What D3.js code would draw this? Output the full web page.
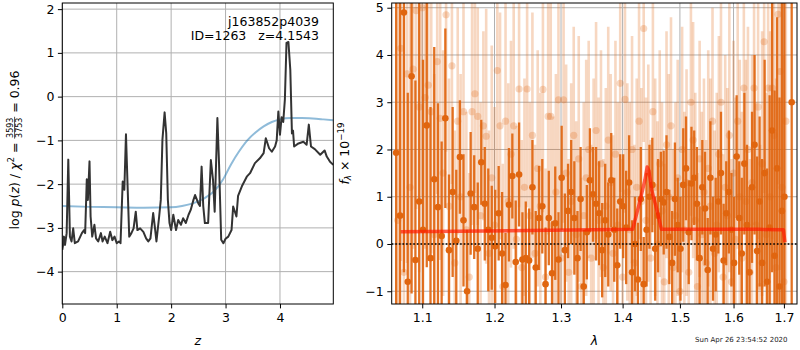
<!DOCTYPE html>
<html><head><meta charset="utf-8">
<script src="https://cdn.jsdelivr.net/npm/d3@7"></script>
<style>body{margin:0;background:#fff} svg text{font-family:"DejaVu Sans",sans-serif}</style>
</head><body><svg id="c" width="800" height="350"></svg>
<script>
// ---------- left panel: p(z) ----------
const pzZ = [0.00,0.01,0.03,0.05,0.08,0.11,0.14,0.17,0.20,0.23,0.29,0.36,0.40,0.42,0.45,0.47,0.50,0.52,0.55,0.59,
  0.62,0.66,0.71,0.74,0.78,0.83,0.88,0.92,0.96,1.00,1.04,1.07,1.11,1.14,1.17,1.20,1.23,1.27,1.31,1.35,
  1.38,1.43,1.49,1.54,1.58,1.62,1.67,1.70,1.73,1.78,1.81,1.84,1.88,1.91,1.94,1.97,2.00,2.04,2.09,2.13,
  2.18,2.22,2.27,2.32,2.36,2.41,2.44,2.50,2.53,2.56,2.59,2.62,2.68,2.73,2.77,2.80,2.85,2.88,2.92,2.96,
  3.00,3.05,3.11,3.14,3.20,3.23,3.30,3.39,3.45,3.54,3.63,3.70,3.74,3.80,3.85,3.91,3.94,3.97,4.00,4.03,
  4.06,4.09,4.12,4.155,4.19,4.22,4.24,4.26,4.34,4.43,4.49,4.53,4.57,4.64,4.74,4.82,4.86,4.92,4.98];
const pzLog = [-3.50,-3.43,-3.20,-3.39,-3.12,-1.44,-3.20,-3.31,-3.01,-3.35,-3.31,-3.12,-3.05,-3.12,-1.89,-2.36,-1.48,-2.74,-3.20,-2.93,
  -3.24,-3.31,-3.12,-3.31,-3.20,-3.35,-3.09,-3.28,-3.20,-3.35,-3.31,-3.35,-1.94,-2.13,-0.86,-2.05,-3.20,-3.12,-3.01,-2.63,
  -3.05,-3.01,-3.09,-3.24,-3.31,-3.24,-2.66,-2.97,-3.31,-2.74,-2.36,-0.99,-0.36,-0.84,-2.36,-2.89,-3.05,-2.70,-3.05,-2.82,
  -2.93,-2.78,-2.89,-2.70,-2.59,-2.36,-2.25,-2.44,-2.50,-1.60,-2.50,-2.89,-2.89,-1.45,-1.91,-2.63,-0.49,-1.52,-3.27,-3.35,
  -3.25,-3.20,-3.05,-2.51,-2.74,-2.27,-2.05,-1.83,-1.75,-1.52,-1.41,-1.29,-0.95,-1.18,-1.26,-1.14,-1.00,-0.34,-0.87,-0.47,
  -0.58,-0.07,1.23,1.25,0.61,-0.84,-0.78,-1.14,-1.07,-1.03,-1.10,-0.64,-1.14,-1.20,-1.33,-1.23,-1.37,-1.49,-1.56];
const chiZ = [0,0.5,1.0,1.5,2.0,2.2,2.4,2.6,2.8,2.95,3.1,3.25,3.4,3.55,3.7,3.85,4.0,4.2,4.4,4.6,4.8,4.98];
const chiLog = [-2.50,-2.52,-2.53,-2.54,-2.53,-2.50,-2.44,-2.33,-2.15,-1.90,-1.55,-1.25,-1.00,-0.82,-0.68,-0.58,-0.52,-0.49,-0.49,-0.50,-0.52,-0.54];
const zTicks = [0,1,2,3,4];
const pTicks = [-4,-3,-2,-1,0,1,2];

// ---------- right panel: spectrum ----------
const lamDark = [1.066,1.071,1.076,1.081,1.086,1.091,1.096,1.101,1.106,1.111,
  1.116,1.121,1.126,1.131,1.136,1.141,1.146,1.151,1.156,1.161,
  1.166,1.171,1.176,1.181,1.186,1.191,1.196,1.201,1.206,1.211,
  1.216,1.221,1.226,1.231,1.236,1.241,1.246,1.251,1.256,1.261,
  1.266,1.271,1.276,1.281,1.286,1.291,1.296,1.301,1.306,1.311,
  1.316,1.321,1.326,1.331,1.336,1.341,1.346,1.351,1.356,1.361,
  1.366,1.371,1.376,1.381,1.386,1.391,1.396,1.401,1.406,1.411,
  1.416,1.421,1.426,1.431,1.436,1.441,1.446,1.451,1.456,1.461,
  1.466,1.471,1.476,1.481,1.486,1.491,1.496,1.501,1.506,1.511,
  1.516,1.521,1.526,1.531,1.536,1.541,1.546,1.551,1.556,1.561,
  1.566,1.571,1.576,1.581,1.586,1.591,1.596,1.601,1.606,1.611,
  1.616,1.621,1.626,1.631,1.636,1.641,1.646,1.651,1.656,1.661,
  1.666,1.671,1.676,1.681,1.686,1.691,1.696,1.701,1.716];
const fluxDark = [1.93,0.6,4.9,-0.8,3.55,-0.34,0.9,0.3,2.51,-0.3,
  1.37,0.78,0.17,2.66,-0.13,1.1,0.07,1.84,0.5,-1.0,
  1.07,0.78,-0.1,1.73,0.85,0.3,0.13,-0.05,0.65,-0.2,
  -0.87,0.83,1.44,-0.38,1.47,-0.33,-0.3,-0.35,1.2,-0.5,
  0.55,0.8,-0.85,0.55,-0.62,0.44,-0.33,1.4,-0.13,0.7,
  1.1,0.55,-0.3,0.95,-0.9,0.25,1.35,1.05,0.85,0.65,
  -0.13,0.5,0.2,1.35,0.3,-0.45,0.9,0.8,0.35,1.3,
  -0.6,0.0,-0.75,0.95,-0.85,0.3,1.0,1.25,-0.1,0.6,
  0.95,0.88,1.1,0.15,-0.4,0.95,0.4,-0.1,1.25,1.6,
  0.25,1.28,1.4,0.85,-0.3,1.2,0.75,-0.55,1.4,-0.1,
  0.2,0.9,1.5,-0.35,0.65,1.1,0.3,-0.4,1.85,0.55,
  -0.2,1.7,0.4,-0.6,1.2,2.1,-0.15,0.9,-0.4,1.5,
  -0.8,0.35,2.4,-0.25,1.6,-0.9,0.7,1.0,3.0];
const errDark = [4.5,5.0,5.5,4.0,4.6,3.8,4.2,3.6,3.0,3.2,
  2.8,2.2,2.0,1.9,1.6,1.8,1.5,1.2,1.4,1.3,
  1.3,1.1,1.4,0.9,1.2,1.3,1.1,1.2,1.0,1.3,
  1.1,1.2,0.9,1.3,1.1,1.0,1.2,1.1,1.0,1.2,
  1.1,1.0,1.2,1.0,1.1,1.2,1.0,1.1,1.2,1.0,
  1.1,1.2,1.0,1.1,1.2,1.0,1.1,1.0,1.2,1.1,
  1.0,1.2,1.1,1.0,1.1,1.2,1.0,1.1,1.2,1.0,
  1.1,1.0,1.2,1.1,1.0,1.2,1.1,1.0,1.1,1.2,
  1.0,1.1,1.2,1.0,1.1,1.2,1.0,1.1,1.2,1.1,
  1.1,1.2,1.0,1.2,1.1,1.0,1.2,1.1,1.2,1.1,
  1.2,1.1,1.3,1.2,1.1,1.3,1.2,1.4,1.3,1.2,
  1.6,1.5,1.7,1.8,1.6,1.9,2.0,1.8,2.2,2.4,
  2.4,2.8,3.0,3.5,3.2,4.0,4.5,5.0,8.0];
const lamLight = [1.068,1.072,1.076,1.080,1.084,1.088,1.092,1.096,1.100,1.104,
  1.108,1.112,1.116,1.120,1.124,1.128,1.132,1.136,1.140,1.144,
  1.148,1.152,1.156,1.160,1.164,1.168,1.172,1.176,1.180,1.184,
  1.188,1.192,1.196,1.200,1.204,1.208,1.212,1.216,1.220,1.224,
  1.228,1.232,1.236,1.240,1.244,1.248,1.252,1.256,1.260,1.264,
  1.268,1.272,1.276,1.280,1.284,1.288,1.292,1.296,1.300,1.304,
  1.308,1.312,1.316,1.320,1.324,1.328,1.332,1.336,1.340,1.344,
  1.348,1.352,1.356,1.360,1.364,1.368,1.372,1.376,1.380,1.384,
  1.388,1.392,1.396,1.400,1.404,1.408,1.412,1.416,1.420,1.424,
  1.428,1.432,1.436,1.440,1.444,1.448,1.452,1.456,1.460,1.464,
  1.468,1.472,1.476,1.480,1.484,1.488,1.492,1.496,1.500,1.504,
  1.508,1.512,1.516,1.520,1.524,1.528,1.532,1.536,1.540,1.544,
  1.548,1.552,1.556,1.560,1.564,1.568,1.572,1.576,1.580,1.584,
  1.588,1.592,1.596,1.600,1.604,1.608,1.612,1.616,1.620,1.624,
  1.628,1.632,1.636,1.640,1.644,1.648,1.652,1.656,1.660,1.664,
  1.668,1.672,1.676,1.680,1.684,1.688,1.692,1.696,1.700,1.704];
const fluxLight = [0.5,4.14,-0.6,3.6,1.2,3.7,4.94,2.9,5.0,3.1,
  3.36,2.8,0.2,3.86,2.66,1.5,4.85,0.8,3.77,-0.4,
  2.6,1.0,2.8,0.3,-0.7,2.8,3.18,2.7,0.6,2.5,
  2.28,-0.2,1.4,0.4,3.67,2.5,-0.9,2.6,0.9,1.9,
  2.5,0.1,3.28,-0.5,1.2,3.28,0.6,2.3,-0.2,1.6,
  0.8,3.27,-0.7,2.7,2.7,0.4,1.1,3.05,-0.3,3.05,
  1.5,-0.6,0.9,2.3,0.2,1.8,-0.9,0.6,1.4,2.0,
  -0.3,1.0,2.4,0.5,1.7,-0.5,0.8,2.2,1.3,-0.2,
  1.9,0.4,3.4,-0.7,3.06,1.1,0.3,2.0,-0.4,1.2,
  2.6,0.9,4.56,0.5,1.5,-0.3,2.8,1.2,0.0,1.7,
  0.7,-0.8,2.1,1.0,2.5,-0.5,0.6,1.4,-1.0,2.0,
  0.3,1.3,-0.6,3.0,2.2,0.5,-0.9,1.8,0.2,1.1,
  -0.4,1.6,0.8,2.6,-0.2,0.4,1.9,3.0,-0.7,1.2,
  0.6,2.3,-0.8,1.5,0.1,2.6,1.0,-0.3,3.3,0.9,
  2.0,-0.6,1.3,3.3,0.4,2.9,-0.9,1.7,4.28,0.2,
  3.3,1.0,3.3,2.3,-0.5,4.86,3.65,1.2,-0.8,2.6];
const errLight = [5.0,4.5,5.5,4.0,4.8,3.8,4.2,3.5,4.0,3.2,
  3.6,3.0,3.4,2.8,3.0,2.6,2.9,2.7,2.5,2.8,
  2.4,2.6,2.3,2.5,2.2,2.4,2.1,2.3,2.4,2.0,
  2.7,2.6,2.8,2.5,2.7,2.4,2.6,2.7,2.5,2.4,
  2.6,2.4,2.5,2.7,2.3,2.5,2.4,2.6,2.3,2.5,
  2.4,2.6,2.3,2.5,2.4,2.3,2.5,2.4,2.3,2.6,
  2.3,2.4,2.5,2.3,2.4,2.6,2.3,2.4,2.5,2.3,
  2.4,2.5,2.3,2.6,2.4,2.3,2.5,2.4,2.3,2.5,
  2.4,2.6,2.3,2.5,2.4,2.3,2.7,2.4,2.5,2.3,
  2.5,2.4,2.4,2.6,2.3,2.5,2.4,2.3,2.6,2.4,
  2.3,2.5,2.4,2.6,2.3,2.5,2.4,2.5,2.3,2.6,
  2.5,2.4,2.6,2.4,2.5,2.7,2.4,2.5,2.6,2.4,
  2.6,2.5,2.7,2.4,2.6,2.8,2.5,2.7,2.6,2.8,
  2.7,2.9,2.6,2.8,3.0,2.7,2.9,3.1,2.8,3.0,
  2.6,2.4,2.7,2.9,2.6,2.8,3.0,2.8,3.2,3.0,
  3.3,3.5,3.2,3.8,4.0,3.6,4.2,4.5,4.8,5.0];
const modelLam = [1.072,1.150,1.250,1.350,1.417,1.430,1.438,1.442,1.445,1.450,1.459,1.467,1.550,1.650,1.699,1.702];
const modelFlux = [0.26,0.27,0.285,0.30,0.31,0.93,1.35,1.63,1.55,1.14,0.72,0.31,0.31,0.31,0.30,0.04];
const lamTicks = [1.1,1.2,1.3,1.4,1.5,1.6,1.7];
const fluxTicks = [-1,0,1,2,3,4,5];

// ---------- drawing ----------
const FS = 12.5;
const svg = d3.select("#c");
const L = {x0:62.3, x1:333.3, y0:3, y1:304};
const R = {x0:391.7, x1:797, y0:3, y1:304};
const GRID = "#b0b0b0";
const DARK = "#e0650f";

const xz = d3.scaleLinear().domain([0,4.98]).range([L.x0,L.x1]);
const yp = d3.scaleLinear().domain([-4.74,2.14]).range([L.y1,L.y0]);
const xl = d3.scaleLog().domain([1.0603,1.727]).range([R.x0,R.x1]);
const yf = d3.scaleLinear().domain([-1.27,5.1]).range([R.y1,R.y0]);

const defs = svg.append("defs");
defs.append("clipPath").attr("id","clipL").append("rect")
  .attr("x",L.x0).attr("y",L.y0).attr("width",L.x1-L.x0).attr("height",L.y1-L.y0);
defs.append("clipPath").attr("id","clipR").append("rect")
  .attr("x",R.x0).attr("y",R.y0).attr("width",R.x1-R.x0).attr("height",R.y1-R.y0);

function grid(P, xs, ys, xt, yt){
  const g = svg.append("g").attr("stroke",GRID).attr("stroke-width",1);
  xt.forEach(t=>g.append("line").attr("x1",xs(t)).attr("x2",xs(t)).attr("y1",P.y0).attr("y2",P.y1));
  yt.forEach(t=>g.append("line").attr("y1",ys(t)).attr("y2",ys(t)).attr("x1",P.x0).attr("x2",P.x1));
}
function axes(P, xs, ys, xt, yt, xf, yfm){
  const gx = svg.append("g").attr("transform",`translate(0,${P.y1})`)
    .call(d3.axisBottom(xs).tickValues(xt).tickSize(4.4).tickPadding(4.5).tickFormat(xf));
  const gy = svg.append("g").attr("transform",`translate(${P.x0},0)`)
    .call(d3.axisLeft(ys).tickValues(yt).tickSize(4.4).tickPadding(3.5).tickFormat(yfm));
  [gx,gy].forEach(g=>{
    g.select(".domain").remove();
    g.attr("font-size",FS).attr("font-family","DejaVu Sans");
    g.selectAll("line").attr("stroke","#000").attr("stroke-width",1);
    g.selectAll("text").attr("fill","#000");
  });
  svg.append("rect").attr("x",P.x0).attr("y",P.y0).attr("width",P.x1-P.x0).attr("height",P.y1-P.y0)
    .attr("fill","none").attr("stroke","#000").attr("stroke-width",1);
}

// left panel
grid(L, xz, yp, zTicks, pTicks);
const gLd = svg.append("g").attr("clip-path","url(#clipL)");
gLd.append("path").datum(d3.zip(chiZ,chiLog))
  .attr("d", d3.line().x(d=>xz(d[0])).y(d=>yp(d[1])).curve(d3.curveMonotoneX))
  .attr("fill","none").attr("stroke","#1f77b4").attr("stroke-opacity",0.5).attr("stroke-width",2);
gLd.append("path").datum(d3.zip(pzZ,pzLog))
  .attr("d", d3.line().x(d=>xz(d[0])).y(d=>yp(d[1])))
  .attr("fill","none").attr("stroke","#333").attr("stroke-width",2).attr("stroke-linejoin","round");
axes(L, xz, yp, zTicks, pTicks, d3.format("d"), d3.format("d"));

svg.append("text").attr("x",319).attr("y",25.5).attr("text-anchor","end").attr("font-size",FS).text("j163852p4039");
svg.append("text").attr("x",319).attr("y",39.5).attr("text-anchor","end").attr("font-size",FS)
  .text("ID=1263\u00a0\u00a0\u00a0z=4.1543");

// right panel
grid(R, xl, yf, lamTicks, fluxTicks);
const gRd = svg.append("g").attr("clip-path","url(#clipR)");
const light = d3.zip(lamLight, fluxLight, errLight);
const dark = d3.zip(lamDark, fluxDark, errDark);
gRd.append("g").selectAll("line").data(light).join("line")
  .attr("x1",d=>xl(d[0])).attr("x2",d=>xl(d[0]))
  .attr("y1",d=>yf(d[1]-d[2])).attr("y2",d=>yf(d[1]+d[2]))
  .attr("stroke",DARK).attr("stroke-opacity",0.26).attr("stroke-width",2.6);
gRd.append("g").selectAll("circle").data(light).join("circle")
  .attr("cx",d=>xl(d[0])).attr("cy",d=>yf(d[1])).attr("r",3.6)
  .attr("fill",DARK).attr("fill-opacity",0.25);
gRd.append("g").selectAll("line").data(dark).join("line")
  .attr("x1",d=>xl(d[0])).attr("x2",d=>xl(d[0]))
  .attr("y1",d=>yf(d[1]-d[2])).attr("y2",d=>yf(d[1]+d[2]))
  .attr("stroke",DARK).attr("stroke-opacity",0.92).attr("stroke-width",2.3);
gRd.append("g").selectAll("circle").data(dark).join("circle")
  .attr("cx",d=>xl(d[0])).attr("cy",d=>yf(d[1])).attr("r",3.3)
  .attr("fill",DARK);
gRd.append("path").datum(d3.zip(modelLam, modelFlux))
  .attr("d", d3.line().x(d=>xl(d[0])).y(d=>yf(d[1])))
  .attr("fill","none").attr("stroke","#ff1a00").attr("stroke-opacity",0.7).attr("stroke-width",3.5)
  .attr("stroke-linejoin","round");
gRd.append("line").attr("x1",R.x0).attr("x2",R.x1).attr("y1",yf(0)).attr("y2",yf(0))
  .attr("stroke","#000").attr("stroke-width",1.6).attr("stroke-dasharray","1.6,2");
axes(R, xl, yf, lamTicks, fluxTicks, d3.format(".1f"), d3.format("d"));

// axis labels
svg.append("text").attr("x",(L.x0+L.x1)/2).attr("y",345).attr("text-anchor","middle")
  .attr("font-size",FS).attr("font-style","italic").text("z");
svg.append("text").attr("x",(R.x0+R.x1)/2).attr("y",345).attr("text-anchor","middle")
  .attr("font-size",FS).attr("font-style","italic").text("λ");
svg.append("text").attr("x",787.5).attr("y",341.5).attr("text-anchor","end")
  .attr("font-size",7).attr("fill","#222").text("Sun Apr 26 23:54:52 2020");

// left y label with fraction
{
  const outer = svg.append("g").attr("transform","translate(19,150) rotate(-90)");
  const g = outer.append("g");
  const t1 = g.append("text").attr("font-size",FS);
  t1.append("tspan").text("log\u00a0");
  t1.append("tspan").attr("font-style","italic").text("p");
  t1.append("tspan").text("(");
  t1.append("tspan").attr("font-style","italic").text("z");
  t1.append("tspan").text(")\u00a0/\u00a0");
  t1.append("tspan").attr("font-style","italic").text("χ");
  t1.append("tspan").attr("font-size",8.7).attr("dy",-5).text("2");
  t1.append("tspan").attr("dy",5).text("\u00a0=\u00a0");
  const w1 = t1.node().getComputedTextLength();
  const num = g.append("text").attr("font-size",8).attr("text-anchor","middle").text("3593");
  const den = g.append("text").attr("font-size",8).attr("text-anchor","middle").text("3753");
  const fw = Math.max(num.node().getComputedTextLength(), den.node().getComputedTextLength()) + 1.5;
  num.attr("x",w1+fw/2).attr("y",-6.3);
  den.attr("x",w1+fw/2).attr("y",3.2);
  g.append("line").attr("x1",w1).attr("x2",w1+fw).attr("y1",-4.4).attr("y2",-4.4)
    .attr("stroke","#000").attr("stroke-width",0.7);
  const t2 = g.append("text").attr("font-size",FS).attr("x",w1+fw).text("\u00a0=\u00a00.96");
  const W = w1 + fw + t2.node().getComputedTextLength();
  g.attr("transform",`translate(${-W/2},0)`);
}
// right y label
svg.append("g").attr("transform","translate(348.5,153.5) rotate(-90)")
  .append("text").attr("font-size",FS).attr("text-anchor","middle")
  .call(t=>{
    t.append("tspan").attr("font-style","italic").text("f");
    t.append("tspan").attr("font-size",8.7).attr("font-style","italic").attr("dy",2.5).text("λ");
    t.append("tspan").attr("dy",-2.5).text("\u00a0×\u00a010");
    t.append("tspan").attr("font-size",8.7).attr("dy",-5).text("−19");
  });
</script>
</body></html>
